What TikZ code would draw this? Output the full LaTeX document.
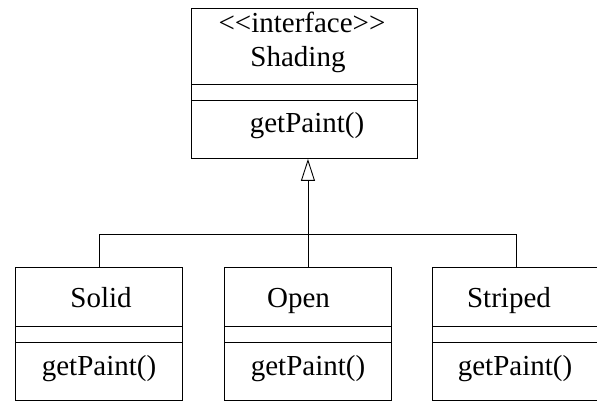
\documentclass[tikz,border=0pt]{standalone}
\usepackage{fontspec}
\setmainfont{Liberation Serif}
\usetikzlibrary{arrows.meta}

\tikzset{
  classbox/.style={draw=black, line width=0.9pt, inner sep=0pt, anchor=north west,
                   minimum width=167pt, minimum height=133pt},
  divider/.style={draw=black, line width=0.9pt},
  label/.style={inner sep=0pt, anchor=base, font=\fontsize{29}{34}\selectfont},
  link/.style={draw=black, line width=0.9pt},
  realizes/.style={link, -{Triangle[open, length=22pt, width=14pt, line width=0.9pt]}}
}

\begin{document}
\begin{tikzpicture}[x=1pt, y=-1pt]
  \useasboundingbox (0,0) rectangle (597,403);

  % interface Shading
  \node[classbox, minimum width=226pt, minimum height=150pt] (shading) at (191,8) {};
  \draw[divider] (shading.west |- 0,84) -- (shading.east |- 0,84);
  \draw[divider] (shading.west |- 0,100) -- (shading.east |- 0,100);
  \node[label] (shadingstereo) at (302,33) {<{}<interface>{}>};
  \node[label] (shadingname) at (298,67) {Shading};
  \node[label] (shadingop) at (307,133) {getPaint()};

  % implementing classes
  \node[classbox] (solid) at (15,267) {};
  \node[classbox] (open) at (224,267) {};
  \node[classbox] (striped) at (432,267) {};
  \foreach \c in {solid, open, striped} {
    \draw[divider] (\c.west |- 0,326) -- (\c.east |- 0,326);
    \draw[divider] (\c.west |- 0,342) -- (\c.east |- 0,342);
  }
  \node[label] (solidname) at (101,308) {Solid};
  \node[label] (openname) at (298.5,308) {Open};
  \node[label] (stripedname) at (509,308) {Striped};
  \node[label] (solidop) at (99,375) {getPaint()};
  \node[label] (openop) at (308,375) {getPaint()};
  \node[label] (stripedop) at (515,375) {getPaint()};

  % realization connectors
  \coordinate (bus) at (0,234);
  \draw[link] (solid.north) -- (solid.north |- bus) -- (striped.north |- bus) -- (striped.north);
  \draw[realizes] (open.north) -- (open.north |- shading.south);
\end{tikzpicture}
\end{document}
